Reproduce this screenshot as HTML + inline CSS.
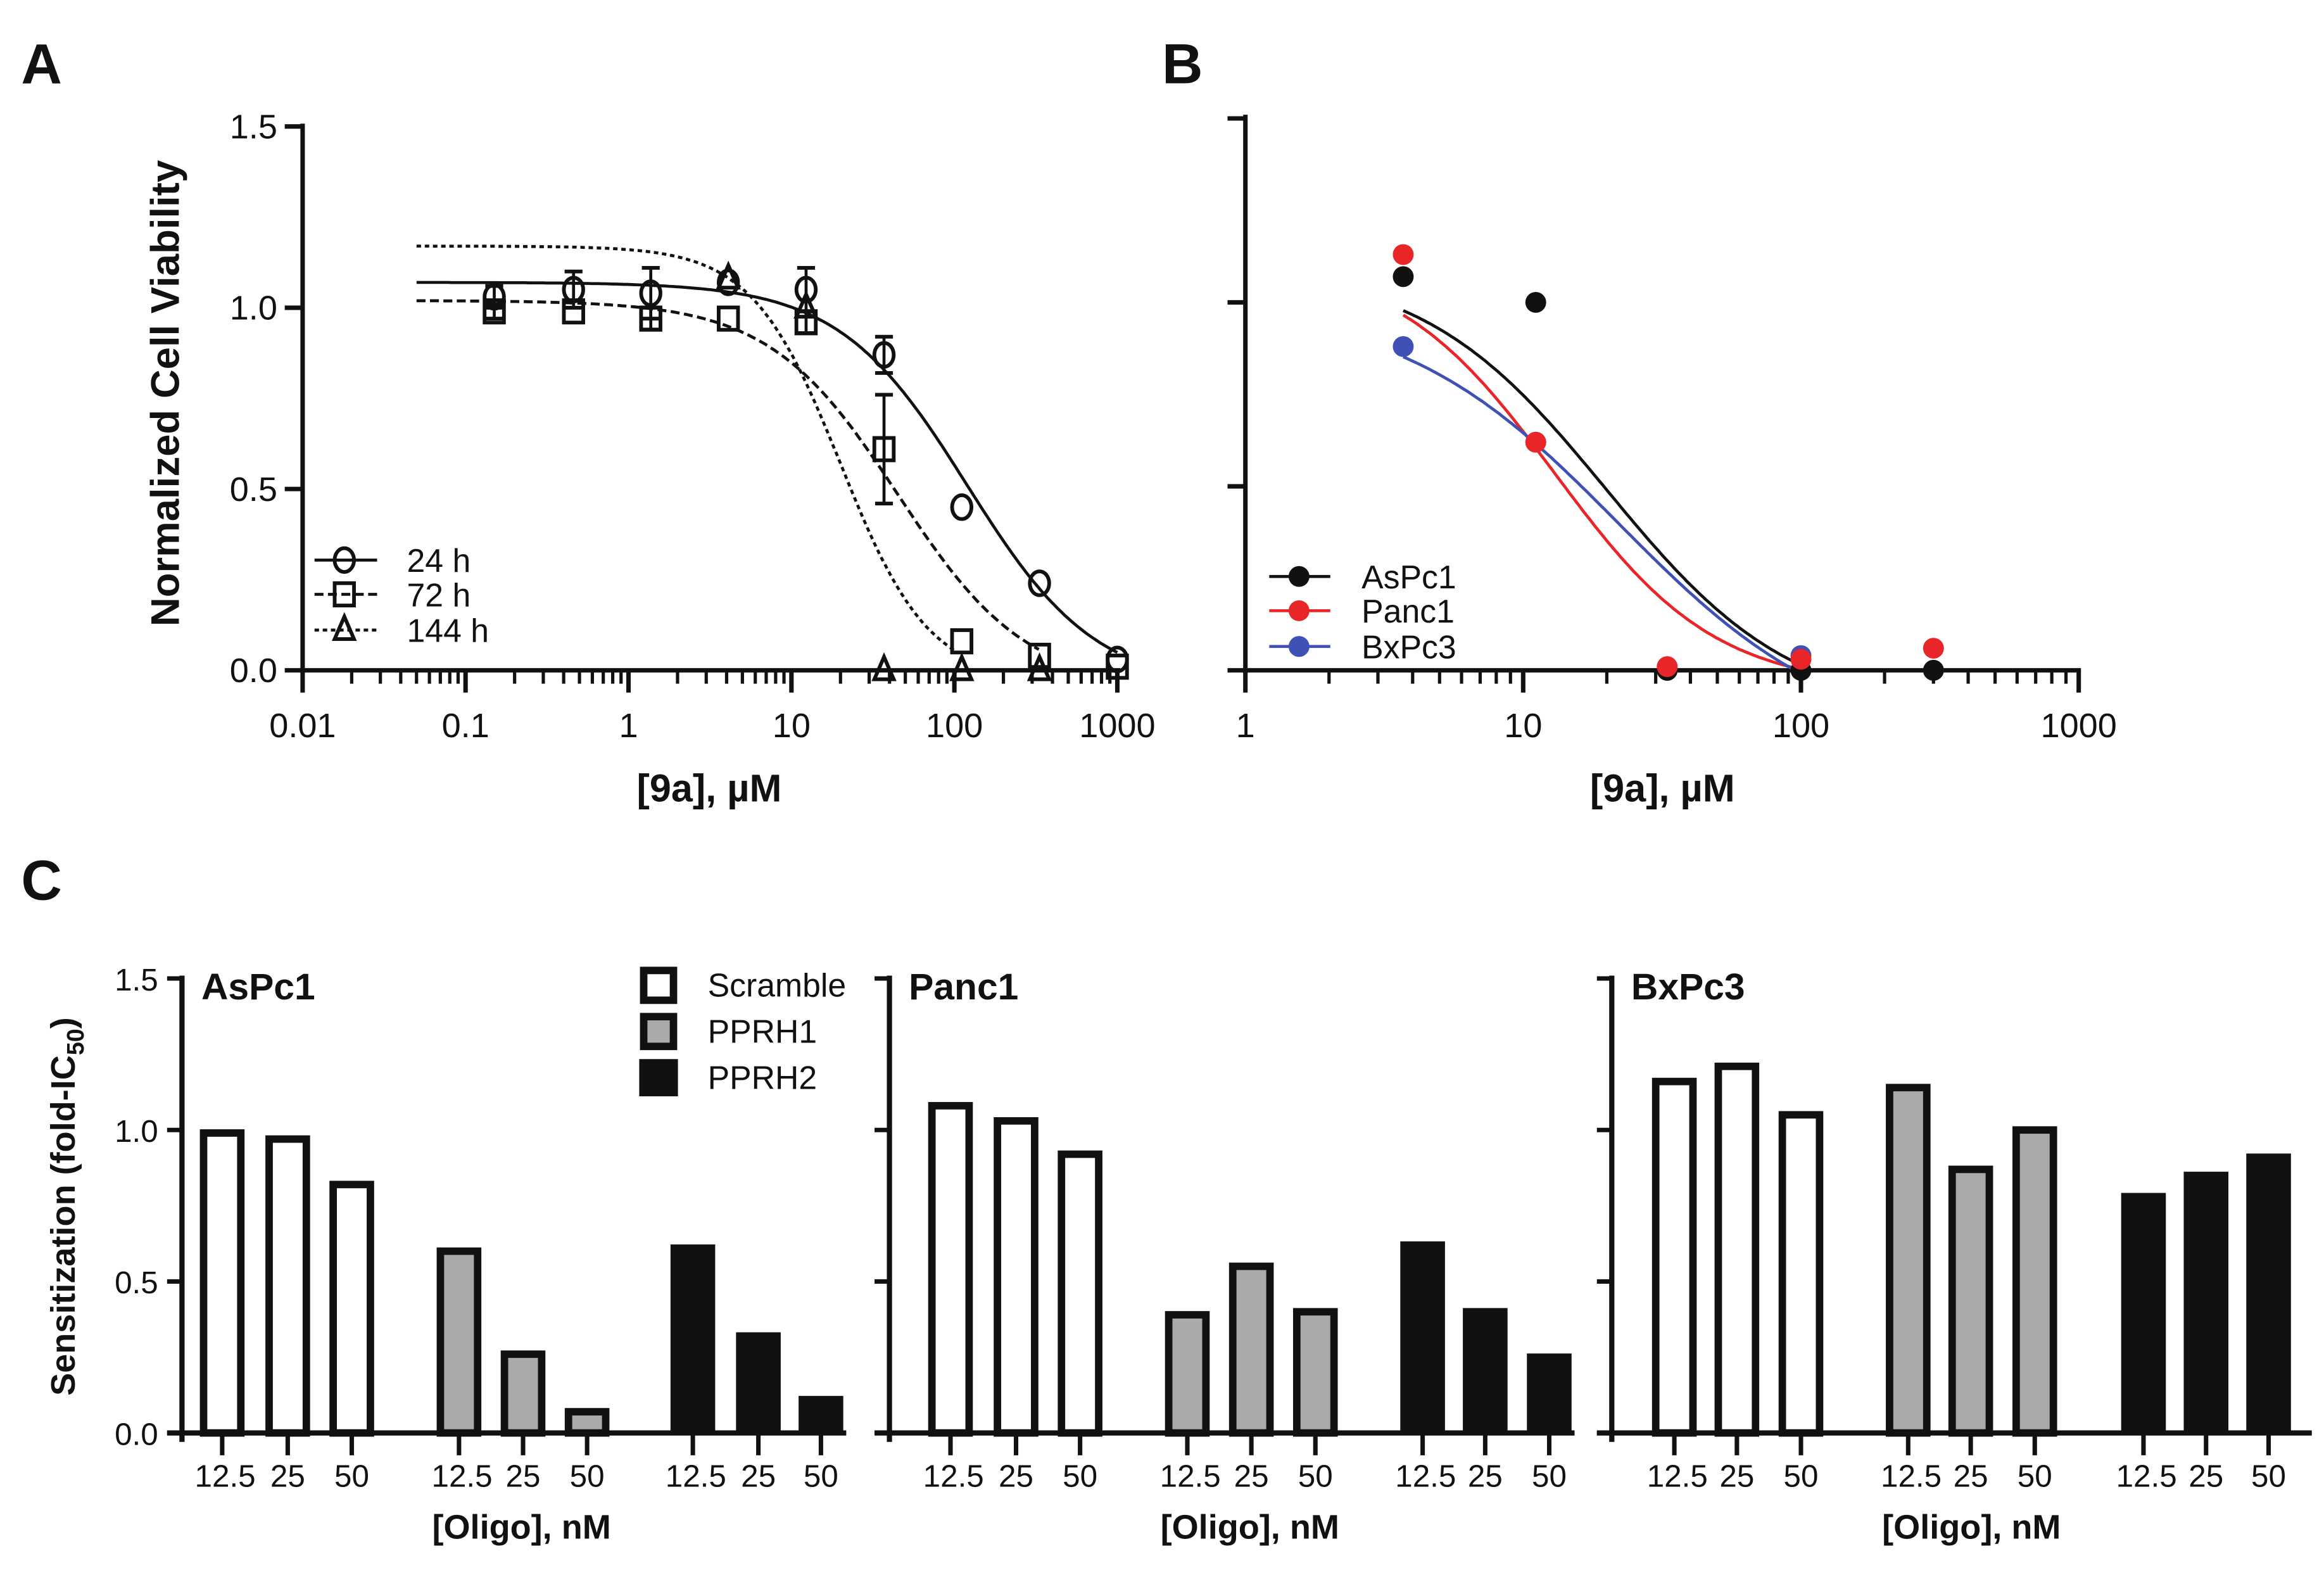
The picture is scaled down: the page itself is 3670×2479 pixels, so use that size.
<!DOCTYPE html>
<html><head><meta charset="utf-8"><style>
html,body{margin:0;padding:0;background:#fff}
svg{display:block}
text{font-family:"Liberation Sans",Arial,sans-serif;fill:#111}
</style></head><body>
<svg id="fig" width="3670" height="2479" viewBox="0 0 1560 1054" xmlns="http://www.w3.org/2000/svg">
<rect width="1560" height="1054" fill="#fff"/>
<text x="14" y="56" font-size="38" font-weight="bold">A</text>
<text x="780" y="56" font-size="38" font-weight="bold">B</text>
<text x="14" y="604" font-size="38" font-weight="bold">C</text>
<g id="gA"></g>
<g id="gB"></g>
<g id="gC"></g>
</svg>
<script>
// ---------- Panel A data ----------
const concA = [0.15, 0.46, 1.37, 4.1, 12.3, 37, 111, 333, 1000];
const v24 = [1.03, 1.05, 1.04, 1.07, 1.05, 0.87, 0.45, 0.24, 0.03];
const e24 = [0.03, 0.05, 0.07, 0.0, 0.06, 0.05, 0, 0, 0];
const v72 = [0.99, 0.99, 0.97, 0.97, 0.96, 0.61, 0.08, 0.04, 0.01];
const e72 = [0.02, 0.0, 0.03, 0.0, 0.03, 0.15, 0, 0, 0];
const conc144 = [4.1, 12.3, 37, 111, 333];
const v144 = [1.08, 1.0, 0.0, 0.0, 0.0];
// fit params: top, bottom, ic50, hill, xEnd
const fit24 = [1.07, -0.05, 120, 1.1, 1000];
const fit72 = [1.02, -0.05, 45, 1.1, 330];
const fit144 = [1.17, -0.03, 20, 1.6, 100];
const yTicksA = [0, 0.5, 1.0, 1.5];
const yTickLabelsA = ["0.0", "0.5", "1.0", "1.5"];
const xTicksA = [0.01, 0.1, 1, 10, 100, 1000];
const xTickLabelsA = ["0.01", "0.1", "1", "10", "100", "1000"];
// ---------- Panel B data ----------
const concB = [3.7, 11.1, 33, 100, 300];
const vAsPc1 = [1.07, 1.0, 0.0, 0.0, 0.0];
const vPanc1 = [1.13, 0.62, 0.01, 0.03, 0.06];
const vBxPc3 = [0.88, 0.62, 0.0, 0.04, 0.0];
const fitAs = [1.10, -0.12, 20, 1.3];
const fitPa = [1.12, -0.05, 13, 1.5];
const fitBx = [1.0, -0.2, 22, 1.1];
const xTicksB = [1, 10, 100, 1000];
const xTickLabelsB = ["1", "10", "100", "1000"];
// ---------- Panel C data ----------
const cellLines = ["AsPc1", "Panc1", "BxPc3"];
const oligoGroups = ["Scramble", "PPRH1", "PPRH2"];
const doses = ["12.5", "25", "50"];
const sensAsPc1 = [[0.99, 0.97, 0.82], [0.60, 0.26, 0.07], [0.61, 0.32, 0.11]];
const sensPanc1 = [[1.08, 1.03, 0.92], [0.39, 0.55, 0.40], [0.62, 0.40, 0.25]];
const sensBxPc3 = [[1.16, 1.21, 1.05], [1.14, 0.87, 1.00], [0.78, 0.85, 0.91]];
const yTicksC = [0, 0.5, 1.0, 1.5];
const yTickLabelsC = ["0.0", "0.5", "1.0", "1.5"];

const NS = "http://www.w3.org/2000/svg";
function mk(tag, attrs, parent, txt) {
  const e = document.createElementNS(NS, tag);
  for (const k in attrs) e.setAttribute(k, attrs[k]);
  if (txt !== undefined) e.textContent = txt;
  parent.appendChild(e);
  return e;
}
function logistic(p, x) { return p[1] + (p[0] - p[1]) / (1 + Math.pow(x / p[2], p[3])); }

// ===== Panel A =====
const gA = document.getElementById('gA');
const ax = v => 203 + (Math.log10(v) + 2) * 109.4;
const ay = v => 450 - v * 243.4;
let e;
e = mk('line', {x1: 203, y1: 83, x2: 203, y2: 452, stroke: '#111', 'stroke-width': 3}, gA);
 
e = mk('line', {x1: 201, y1: 450, x2: 752, y2: 450, stroke: '#111', 'stroke-width': 3}, gA);
 
yTicksA.forEach((t, i) => {
  mk('line', {x1: 191, y1: ay(t), x2: 203, y2: ay(t), stroke: '#111', 'stroke-width': 3}, gA);
  e = mk('text', {x: 186, y: ay(t) + 8, 'font-size': 23, 'text-anchor': 'end'}, gA, yTickLabelsA[i]);
   
});
xTicksA.forEach((t, i) => {
  mk('line', {x1: ax(t), y1: 450, x2: ax(t), y2: 465, stroke: '#111', 'stroke-width': 3}, gA);
  e = mk('text', {x: ax(t), y: 495, 'font-size': 23, 'text-anchor': 'middle'}, gA, xTickLabelsA[i]);
   
  if (i < xTicksA.length - 1) for (let m = 2; m <= 9; m++)
    mk('line', {x1: ax(t * m), y1: 450, x2: ax(t * m), y2: 459, stroke: '#111', 'stroke-width': 2.2}, gA);
});
e = mk('text', {x: 476, y: 538, 'font-size': 26, 'font-weight': 'bold', 'text-anchor': 'middle'}, gA, '[9a], µM');
 
e = mk('text', {x: 0, y: 0, 'font-size': 27, 'font-weight': 'bold', 'text-anchor': 'middle', transform: 'translate(120,264) rotate(-90)'}, gA, 'Normalized Cell Viability');
 

function curveA(p, dash, name) {
  let d = '';
  for (let i = 0; i <= 200; i++) {
    const lx = Math.log10(0.05) + (Math.log10(p[4]) - Math.log10(0.05)) * i / 200;
    const y = Math.max(0, logistic(p, Math.pow(10, lx)));
    d += (i ? 'L' : 'M') + ax(Math.pow(10, lx)).toFixed(1) + ',' + ay(y).toFixed(1);
  }
  const el = mk('path', {d, fill: 'none', stroke: '#111', 'stroke-width': 2, 'stroke-dasharray': dash}, gA);
   
}
curveA(fit24, 'none', 'fit-curve-24h');
curveA(fit72, '6,3', 'fit-curve-72h');
curveA(fit144, '3,2.5', 'fit-curve-144h');

function errbar(g, x, y, err) {
  if (!err) return;
  mk('line', {x1: x, y1: ay(y - err), x2: x, y2: ay(y + err), stroke: '#111', 'stroke-width': 2}, g);
  mk('line', {x1: x - 6, y1: ay(y - err), x2: x + 6, y2: ay(y - err), stroke: '#111', 'stroke-width': 2.5}, g);
  mk('line', {x1: x - 6, y1: ay(y + err), x2: x + 6, y2: ay(y + err), stroke: '#111', 'stroke-width': 2.5}, g);
}
function marker(g, type, x, y, name) {
  let el;
  if (type === 'c') el = mk('ellipse', {cx: x, cy: y, rx: 6.5, ry: 8, fill: 'none', stroke: '#111', 'stroke-width': 2.5}, g);
  else if (type === 's') el = mk('rect', {x: x - 6.5, y: y - 7.5, width: 13, height: 15, fill: 'none', stroke: '#111', 'stroke-width': 2.5}, g);
  else el = mk('path', {d: `M${x},${y - 9}L${x + 6.5},${y + 6}L${x - 6.5},${y + 6}Z`, fill: 'none', stroke: '#111', 'stroke-width': 2.5}, g);
   
}
concA.forEach((c, i) => { errbar(gA, ax(c), v24[i], e24[i]); marker(gA, 'c', ax(c), ay(v24[i]), 'point-24h'); });
concA.forEach((c, i) => { errbar(gA, ax(c), v72[i], e72[i]); marker(gA, 's', ax(c), ay(v72[i]), 'point-72h'); });
conc144.forEach((c, i) => { marker(gA, 't', ax(c), ay(v144[i]), 'point-144h'); });
[['c', 'none', '24 h', 376], ['s', '6,3', '72 h', 399], ['t', '3,2.5', '144 h', 423]].forEach(r => {
  const lg = mk('g', {}, gA);
   
  mk('line', {x1: 211, y1: r[3], x2: 253, y2: r[3], stroke: '#111', 'stroke-width': 2, 'stroke-dasharray': r[1]}, lg);
  marker(lg, r[0], 231, r[3], 'a-legend-marker');
  mk('text', {x: 273, y: r[3] + 8, 'font-size': 22}, lg, r[2]);
});

// ===== Panel B =====
const gB = document.getElementById('gB');
const bx = v => 836 + Math.log10(v) * 186.5;
const by = v => 450 - v * 247;
e = mk('line', {x1: 836, y1: 77, x2: 836, y2: 452, stroke: '#111', 'stroke-width': 3}, gB);
 
e = mk('line', {x1: 834, y1: 450, x2: 1397, y2: 450, stroke: '#111', 'stroke-width': 3}, gB);
 
[0, 0.5, 1.0, 1.5].forEach(t => mk('line', {x1: 824, y1: by(t), x2: 836, y2: by(t), stroke: '#111', 'stroke-width': 3}, gB));
xTicksB.forEach((t, i) => {
  mk('line', {x1: bx(t), y1: 450, x2: bx(t), y2: 465, stroke: '#111', 'stroke-width': 3}, gB);
  e = mk('text', {x: bx(t), y: 495, 'font-size': 23, 'text-anchor': 'middle'}, gB, xTickLabelsB[i]);
   
  if (i < xTicksB.length - 1) for (let m = 2; m <= 9; m++)
    mk('line', {x1: bx(t * m), y1: 450, x2: bx(t * m), y2: 459, stroke: '#111', 'stroke-width': 2.2}, gB);
});
e = mk('text', {x: 1116, y: 538, 'font-size': 26, 'font-weight': 'bold', 'text-anchor': 'middle'}, gB, '[9a], µM');
 
function curveB(p, col, name) {
  let d = '', started = false;
  for (let i = 0; i <= 200; i++) {
    const lx = Math.log10(3.7) + (Math.log10(300) - Math.log10(3.7)) * i / 200;
    const y = logistic(p, Math.pow(10, lx));
    if (y < 0) break;
    d += (started ? 'L' : 'M') + bx(Math.pow(10, lx)).toFixed(1) + ',' + by(y).toFixed(1);
    started = true;
  }
  const el = mk('path', {d, fill: 'none', stroke: col, 'stroke-width': 2}, gB);
   
}
curveB(fitAs, '#111', 'fit-curve-aspc1');
curveB(fitPa, '#e8262a', 'fit-curve-panc1');
curveB(fitBx, '#3f51b5', 'fit-curve-bxpc3');
[[vBxPc3, '#3f51b5', 'point-bxpc3'], [vAsPc1, '#111', 'point-aspc1'], [vPanc1, '#e8262a', 'point-panc1']].forEach(s => {
  concB.forEach((c, i) => {
    const el = mk('circle', {cx: bx(c), cy: by(s[0][i]), r: 7, fill: s[1]}, gB);
     
  });
});
[['AsPc1', '#111', 387], ['Panc1', '#e8262a', 410], ['BxPc3', '#3f51b5', 434]].forEach(r => {
  const lg = mk('g', {}, gB);
   
  mk('line', {x1: 852, y1: r[2], x2: 893, y2: r[2], stroke: r[1], 'stroke-width': 2}, lg);
  mk('circle', {cx: 872, cy: r[2], r: 7, fill: r[1]}, lg);
  mk('text', {x: 914, y: r[2] + 8, 'font-size': 22}, lg, r[0]);
});

// ===== Panel C =====
const gC = document.getElementById('gC');
const cy = v => 962 - v * 203.4;
const panels = [
  {name: 'AsPc1', data: sensAsPc1, axisX: 122, end: 568, centers: [[149, 193, 236], [308, 351, 394], [465, 509, 551]]},
  {name: 'Panc1', data: sensPanc1, axisX: 597, end: 1057, centers: [[638, 682, 725], [797, 840, 883], [955, 997, 1040]]},
  {name: 'BxPc3', data: sensBxPc3, axisX: 1082, end: 1552, centers: [[1124, 1166, 1209], [1281, 1323, 1366], [1439, 1481, 1523]]}
];
const fills = ['#fff', '#aaa', '#111'];
panels.forEach((p, pi) => {
  const g = mk('g', {}, gC);
   
  p.data.forEach((grp, gi) => grp.forEach((v, di) => {
    const x = p.centers[gi][di], w = 25;
    let el;
    if (gi === 2) el = mk('rect', {x: x - w / 2 - 2.5, y: cy(v) - 2.5, width: w + 5, height: 962 - cy(v) + 2.5, fill: '#111'}, g);
    else el = mk('rect', {x: x - w / 2, y: cy(v), width: w, height: 962 - cy(v), fill: fills[gi], stroke: '#111', 'stroke-width': 5}, g);
     
    mk('line', {x1: x, y1: 962, x2: x, y2: 977, stroke: '#111', 'stroke-width': 3}, g);
    const t = mk('text', {x: x + (di === 0 ? 2 : 0), y: 998, 'font-size': 21, 'text-anchor': 'middle'}, g, doses[di]);
     
  }));
  e = mk('line', {x1: p.axisX, y1: 655, x2: p.axisX, y2: 968, stroke: '#111', 'stroke-width': 3.5}, g);
   
  e = mk('line', {x1: p.axisX - 10, y1: 962, x2: p.end, y2: 962, stroke: '#111', 'stroke-width': 3.5}, g);
   
  yTicksC.forEach((t, i) => {
    mk('line', {x1: p.axisX - 10, y1: cy(t), x2: p.axisX, y2: cy(t), stroke: '#111', 'stroke-width': 3}, g);
    if (pi === 0) {
      const tl = mk('text', {x: p.axisX - 16, y: cy(t) + 8, 'font-size': 21, 'text-anchor': 'end'}, g, yTickLabelsC[i]);
       
    }
  });
  e = mk('text', {x: p.axisX + 13, y: 671, 'font-size': 25, 'font-weight': 'bold'}, g, p.name);
   
  e = mk('text', {x: (p.centers[0][0] + p.centers[2][2]) / 2, y: 1033, 'font-size': 23, 'font-weight': 'bold', 'text-anchor': 'middle'}, g, '[Oligo], nM');
   
});
e = mk('text', {x: 0, y: 0, 'font-size': 23, 'font-weight': 'bold', 'text-anchor': 'middle', transform: 'translate(50,810) rotate(-90)'}, gC);
 
mk('tspan', {}, e, 'Sensitization (fold-IC');
mk('tspan', {'font-size': 16, dy: 6}, e, '50');
mk('tspan', {dy: -6}, e, ')');
oligoGroups.forEach((name, i) => {
  const y = 661 + i * 31;
  const lg = mk('g', {}, gC);
   
  if (i === 2) mk('rect', {x: 429, y: y - 12, width: 26, height: 25, fill: '#111'}, lg);
  else mk('rect', {x: 432, y: y - 9.5, width: 20, height: 20, fill: fills[i], stroke: '#111', 'stroke-width': 5}, lg);
  mk('text', {x: 475, y: y + 8, 'font-size': 22}, lg, name);
});
</script>
</body></html>
